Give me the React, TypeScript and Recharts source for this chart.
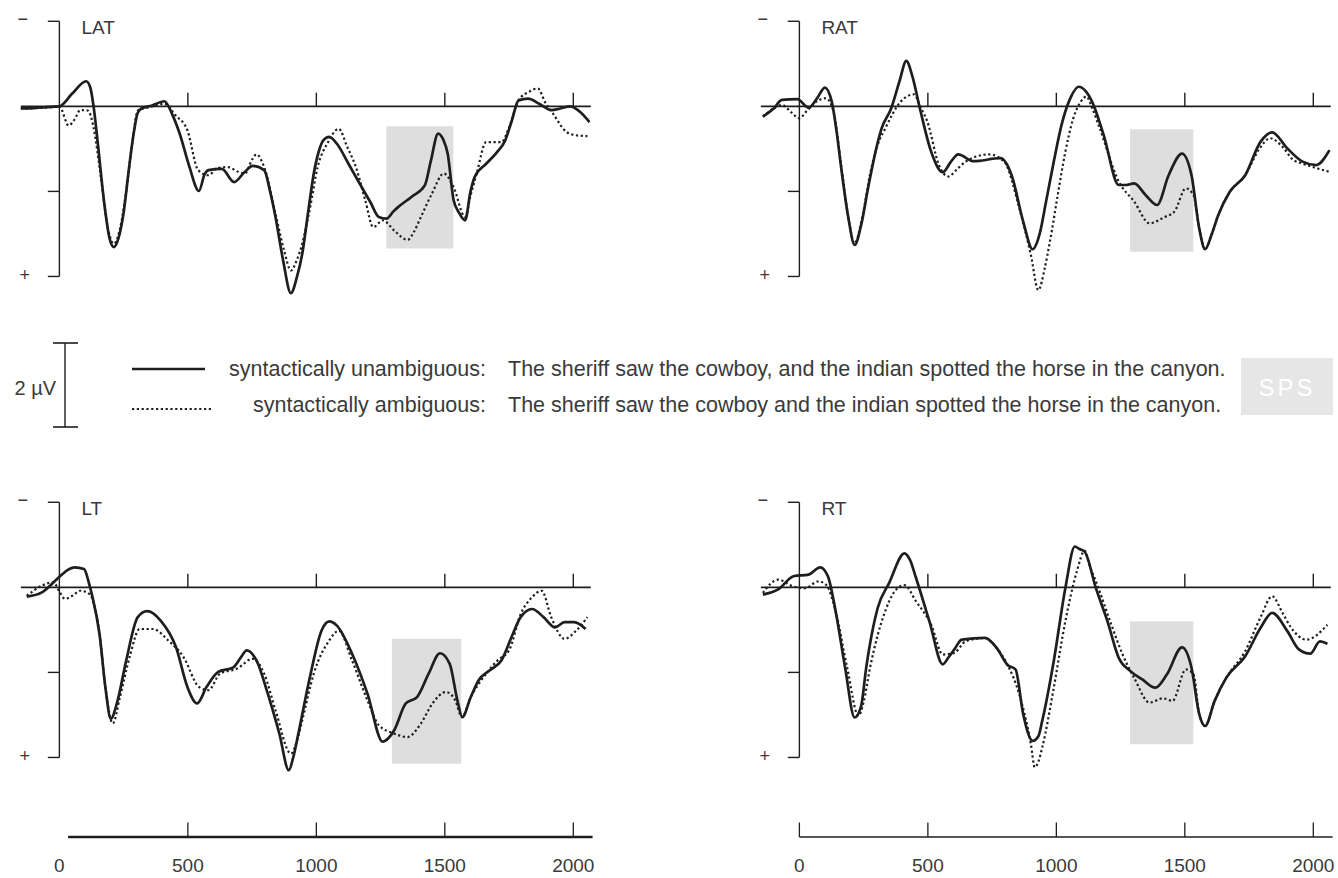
import React from 'react';
import { LineChart, Line, XAxis, YAxis, ReferenceLine, ReferenceArea } from 'recharts';

type Pt = [number, number];

// time (ms), amplitude (µV, negative plotted up)
const LAT_UNAMBIG: Pt[] = [
  [-150, 0.05], [-100, 0.04], [-50, 0.02], [0, 0], [50, -0.3], [104, -0.59], [120, -0.45], [133, 0], [150, 0.9],
  [175, 2.3], [195, 3.1], [212, 3.31], [230, 3.1], [250, 2.5], [270, 1.5], [290, 0.6], [305, 0.15], [320, 0.05],
  [360, -0.02], [409, -0.12], [440, 0.2], [468, 0.64], [505, 1.4], [543, 1.99], [565, 1.6], [580, 1.5], [632, 1.47],
  [680, 1.78], [720, 1.55], [752, 1.4], [797, 1.5], [820, 2.0], [841, 2.6], [870, 3.6], [901, 4.39], [925, 4.0],
  [945, 3.47], [970, 2.4], [990, 1.58], [1010, 1.05], [1027, 0.8], [1050, 0.72], [1080, 0.88], [1125, 1.35],
  [1169, 1.82], [1210, 2.25], [1243, 2.6], [1273, 2.64], [1300, 2.47], [1318, 2.37], [1370, 2.13], [1422, 1.86],
  [1445, 1.3], [1474, 0.64], [1495, 0.8], [1511, 1.11], [1534, 2.2], [1555, 2.5], [1579, 2.68], [1600, 2.0],
  [1616, 1.66], [1661, 1.35], [1700, 1.1], [1735, 0.8], [1760, 0.35], [1787, -0.14], [1824, -0.18], [1870, -0.05],
  [1914, 0.09], [1950, 0.05], [1988, 0], [2030, 0.15], [2063, 0.37],
];
const LAT_AMBIG: Pt[] = [
  [-150, 0.05], [-50, 0.03], [0, 0], [36, 0.45], [60, 0.3], [81, 0.09], [111, 0.1], [133, 0.5], [160, 1.6],
  [190, 2.9], [212, 3.23], [235, 2.9], [260, 2.0], [285, 0.8], [305, 0.1], [350, 0.02], [409, -0.06], [450, 0.2],
  [498, 0.56], [540, 1.5], [580, 1.62], [615, 1.45], [655, 1.43], [700, 1.55], [722, 1.58], [750, 1.25], [767, 1.13],
  [797, 1.43], [841, 2.53], [875, 3.4], [901, 3.86], [925, 3.6], [945, 3.23], [975, 2.4], [1005, 1.43], [1045, 0.85],
  [1087, 0.53], [1120, 0.95], [1154, 1.43], [1190, 2.2], [1221, 2.84], [1259, 2.68], [1303, 2.92], [1355, 3.14],
  [1380, 2.95], [1407, 2.6], [1450, 2.05], [1496, 1.58], [1534, 1.9], [1579, 2.6], [1600, 2.1], [1624, 1.58],
  [1661, 0.84], [1720, 0.84], [1750, 0.5], [1787, -0.14], [1830, -0.35], [1862, -0.42], [1890, -0.1], [1921, 0.17],
  [1973, 0.6], [2010, 0.68], [2055, 0.7],
];
const RAT_UNAMBIG: Pt[] = [
  [-142, 0.24], [-100, 0.05], [-68, -0.15], [-8, -0.17], [36, 0.03], [70, -0.2], [99, -0.44], [126, -0.11],
  [145, 0.6], [163, 1.46], [190, 2.6], [215, 3.26], [240, 2.8], [267, 1.93], [295, 1.1], [320, 0.52], [357, 0.05],
  [390, -0.6], [416, -1.07], [440, -0.7], [469, 0.05], [513, 1.07], [558, 1.55], [590, 1.3], [618, 1.13], [678, 1.29],
  [782, 1.22], [826, 1.62], [871, 2.71], [908, 3.36], [935, 3.0], [960, 2.24], [990, 1.3], [1020, 0.44], [1055, -0.2],
  [1087, -0.46], [1115, -0.35], [1139, -0.11], [1184, 0.67], [1243, 1.85], [1270, 1.85], [1303, 1.81], [1348, 2.09],
  [1392, 2.32], [1437, 1.62], [1489, 1.11], [1526, 1.62], [1556, 2.87], [1579, 3.36], [1605, 3.0], [1630, 2.56],
  [1675, 2.01], [1735, 1.62], [1795, 0.83], [1840, 0.61], [1899, 0.99], [1958, 1.3], [2011, 1.38], [2063, 1.03],
];
const RAT_AMBIG: Pt[] = [
  [-142, 0.24], [-100, 0.05], [-68, -0.03], [-30, 0.15], [0, 0.28], [30, 0.1], [66, -0.11], [104, -0.19], [133, 0.13],
  [163, 1.4], [190, 2.6], [215, 3.22], [245, 2.6], [275, 1.6], [305, 0.9], [334, 0.52], [394, -0.11], [446, -0.28],
  [470, 0], [498, 0.36], [543, 1.38], [580, 1.65], [610, 1.5], [647, 1.3], [737, 1.13], [797, 1.3], [856, 2.4],
  [901, 3.5], [930, 4.32], [955, 3.8], [975, 3.18], [1005, 2.1], [1035, 1.07], [1065, 0.3], [1095, -0.11],
  [1117, -0.23], [1140, 0.05], [1169, 0.52], [1243, 1.77], [1303, 2.24], [1363, 2.75], [1422, 2.6], [1459, 2.48],
  [1504, 1.93], [1534, 2.09], [1556, 2.87], [1579, 3.36], [1605, 3.0], [1630, 2.56], [1675, 2.01], [1735, 1.62],
  [1790, 1.0], [1832, 0.75], [1880, 0.95], [1920, 1.25], [1960, 1.35], [2011, 1.45], [2063, 1.54],
];
const LT_UNAMBIG: Pt[] = [
  [-127, 0.22], [-68, 0.12], [-8, -0.2], [30, -0.4], [59, -0.47], [96, -0.43], [115, -0.1], [126, 0.16], [156, 1.09],
  [180, 2.4], [200, 3.09], [225, 2.7], [260, 1.72], [305, 0.7], [342, 0.56], [394, 0.78], [454, 1.41], [498, 2.34],
  [536, 2.73], [573, 2.34], [618, 1.99], [677, 1.88], [707, 1.64], [729, 1.48], [767, 1.72], [811, 2.5], [856, 3.44],
  [893, 4.3], [910, 4.0], [930, 3.44], [975, 2.11], [1020, 1.02], [1050, 0.8], [1080, 0.9], [1139, 1.56],
  [1199, 2.5], [1258, 3.63], [1280, 3.55], [1303, 3.36], [1348, 2.73], [1392, 2.58], [1437, 2.03], [1481, 1.55],
  [1519, 1.8], [1549, 2.66], [1568, 3.05], [1601, 2.58], [1631, 2.19], [1675, 1.95], [1720, 1.72], [1765, 1.09],
  [1795, 0.7], [1840, 0.51], [1884, 0.7], [1929, 0.94], [1966, 0.82], [2003, 0.82], [2048, 0.98],
];
const LT_AMBIG: Pt[] = [
  [-127, 0.2], [-68, -0.04], [-23, -0.12], [0, 0.1], [22, 0.27], [50, 0.2], [81, 0.08], [118, 0.16], [156, 1.09],
  [180, 2.4], [208, 3.2], [235, 2.6], [275, 1.6], [312, 0.98], [364, 0.98], [424, 1.25], [483, 1.64], [543, 2.34],
  [580, 2.42], [625, 2.03], [692, 1.91], [752, 1.68], [797, 2.03], [841, 2.89], [901, 3.91], [925, 3.6], [945, 3.13],
  [990, 2.03], [1050, 1.25], [1087, 1.02], [1139, 1.72], [1199, 2.66], [1243, 3.24], [1303, 3.44], [1355, 3.52],
  [1407, 3.2], [1452, 2.73], [1504, 2.46], [1541, 2.66], [1566, 3.05], [1601, 2.58], [1661, 2.03], [1705, 1.72],
  [1750, 1.48], [1795, 0.63], [1840, 0.23], [1877, 0.08], [1914, 0.7], [1966, 1.21], [2011, 1.02], [2055, 0.7],
];
const RT_UNAMBIG: Pt[] = [
  [-142, 0.17], [-83, 0.05], [-23, -0.26], [36, -0.3], [81, -0.47], [111, -0.26], [141, 0.56], [178, 1.89],
  [215, 3.06], [240, 2.8], [260, 1.89], [305, 0.48], [349, -0.1], [409, -0.8], [430, -0.65], [454, -0.22], [506, 0.8],
  [558, 1.81], [580, 1.65], [603, 1.46], [632, 1.23], [722, 1.19], [767, 1.42], [811, 1.83], [841, 1.93], [871, 2.98],
  [908, 3.61], [930, 3.5], [945, 3.14], [990, 1.73], [1035, 0.02], [1072, -0.96], [1090, -0.9], [1110, -0.84],
  [1154, 0.02], [1199, 0.8], [1243, 1.66], [1288, 1.97], [1333, 2.16], [1385, 2.36], [1430, 2.05], [1489, 1.41],
  [1526, 1.89], [1556, 2.98], [1579, 3.26], [1616, 2.67], [1661, 2.13], [1735, 1.62], [1795, 0.95], [1840, 0.6],
  [1899, 1.03], [1944, 1.46], [1988, 1.56], [2026, 1.27], [2055, 1.33],
];
const RT_AMBIG: Pt[] = [
  [-142, 0.13], [-83, -0.18], [-23, -0.02], [22, 0.02], [74, -0.14], [104, -0.06], [141, 0.56], [186, 1.89],
  [230, 3.02], [250, 2.7], [275, 1.89], [334, 0.56], [370, 0.1], [409, -0.05], [454, 0.33], [513, 0.88], [558, 1.58],
  [603, 1.54], [647, 1.27], [722, 1.19], [767, 1.42], [811, 1.83], [856, 2.52], [901, 3.69], [916, 4.23], [930, 4.1],
  [945, 3.77], [990, 2.36], [1035, 0.8], [1080, -0.38], [1110, -0.86], [1130, -0.5], [1154, -0.14], [1214, 0.88],
  [1258, 1.58], [1303, 2.13], [1363, 2.71], [1415, 2.61], [1452, 2.67], [1504, 1.93], [1534, 2.05], [1556, 2.98],
  [1579, 3.26], [1616, 2.67], [1661, 2.13], [1735, 1.5], [1795, 0.7], [1840, 0.21], [1880, 0.6], [1914, 0.95],
  [1973, 1.23], [2055, 0.88],
];

// shaded SPS windows: [t1, t2, v1, v2]
const LAT_SPS = [1272, 1533, 0.47, 3.34];
const RAT_SPS = [1287, 1533, 0.54, 3.42];
const LT_SPS = [1294, 1564, 1.21, 4.15];
const RT_SPS = [1287, 1533, 0.8, 3.69];

const ZERO_TICKS = [500, 1000, 1500, 2000];
const AMP_TICKS = [-2, 2, 4];
const LEFT_AXIS_TICKS = [500, 1000, 1500, 2000];
const RIGHT_AXIS_TICKS = [0, 500, 1000, 1500, 2000];
const AXIS_LABELS = [0, 500, 1000, 1500, 2000];

const FONT = '"Liberation Sans", Arial, Helvetica, sans-serif';
const INK = '#1e1e1e';
const TEXT = '#3a3a3a';
const PX_PER_MS = 591 / 2300;

const toRows = (pts: Pt[]) => pts.map(([t, v]) => ({ t, v }));

interface PanelProps {
  left: number;
  top: number;
  title: string;
  solid: Pt[];
  dotted: Pt[];
  sps: number[];
  axisTicks?: number[];
  axisStart?: number;
  axisWidth?: number;
}

function Panel({ left, top, title, solid, dotted, sps, axisTicks, axisStart = 0, axisWidth = 1.5 }: PanelProps) {
  const withAxis = !!axisTicks;
  const yMax = withAxis ? 5.87 : 5;
  const zeroX = left + 200 * PX_PER_MS;
  const zeroY = top + 2.5 * 42.53;
  return (
    <>
      <div style={{ position: 'absolute', left, top }}>
        <LineChart width={591} height={withAxis ? 397 : 319} margin={{ top: 0, right: 0, bottom: 0, left: 0 }}>
          <XAxis
            type="number"
            dataKey="t"
            domain={[-200, 2100]}
            allowDataOverflow
            hide={!withAxis}
            height={41}
            ticks={AXIS_LABELS}
            axisLine={false}
            tickLine={false}
            tickSize={0}
            tickMargin={22}
            tick={{ fontSize: 19, fill: TEXT, fontFamily: FONT }}
          />
          <YAxis type="number" domain={[-2.5, yMax]} reversed hide allowDataOverflow />
          <ReferenceArea x1={sps[0]} x2={sps[1]} y1={sps[2]} y2={sps[3]} fill="#dedede" fillOpacity={1} stroke="none" />
          <ReferenceLine segment={[{ x: -150, y: 0 }, { x: 2068, y: 0 }]} stroke={INK} strokeWidth={1.6} />
          {ZERO_TICKS.map((t) => (
            <ReferenceLine key={'z' + t} segment={[{ x: t, y: 0 }, { x: t, y: -0.32 }]} stroke={INK} strokeWidth={1.4} />
          ))}
          <ReferenceLine segment={[{ x: 0, y: -2 }, { x: 0, y: 4 }]} stroke={INK} strokeWidth={1.4} />
          {AMP_TICKS.map((v) => (
            <ReferenceLine key={'a' + v} segment={[{ x: -45, y: v }, { x: 0, y: v }]} stroke={INK} strokeWidth={1.4} />
          ))}
          {withAxis && (
            <ReferenceLine segment={[{ x: axisStart, y: yMax }, { x: 2075, y: yMax }]} stroke={INK} strokeWidth={axisWidth} />
          )}
          {withAxis &&
            axisTicks!.map((t) => (
              <ReferenceLine key={'b' + t} segment={[{ x: t, y: yMax }, { x: t, y: yMax - 0.34 }]} stroke={INK} strokeWidth={1.3} />
            ))}
          <Line
            data={toRows(dotted)}
            dataKey="v"
            type="monotone"
            dot={false}
            stroke={INK}
            strokeWidth={2.2}
            strokeDasharray="2.2 2.6"
            isAnimationActive={false}
          />
          <Line
            data={toRows(solid)}
            dataKey="v"
            type="monotone"
            dot={false}
            stroke={INK}
            strokeWidth={2.7}
            isAnimationActive={false}
          />
        </LineChart>
      </div>
      <div style={{ position: 'absolute', left: zeroX + 22, top: zeroY - 89, fontSize: 19, color: TEXT, fontFamily: FONT, lineHeight: '22px' }}>
        {title}
      </div>
      <div style={{ position: 'absolute', left: zeroX - 42, top: zeroY - 97, fontSize: 18, color: TEXT, fontFamily: FONT, lineHeight: '20px' }}>
        −
      </div>
      <div style={{ position: 'absolute', left: zeroX - 40, top: zeroY + 159, fontSize: 18, color: TEXT, fontFamily: FONT, lineHeight: '20px' }}>
        +
      </div>
    </>
  );
}

function LegendBlock() {
  return (
    <svg width={1338} height={140} style={{ position: 'absolute', left: 0, top: 300 }} fontFamily={FONT}>
      <line x1={65} y1={43} x2={65} y2={127} stroke={INK} strokeWidth={1.4} />
      <line x1={53} y1={43} x2={78} y2={43} stroke={INK} strokeWidth={1.6} />
      <line x1={53} y1={127} x2={78} y2={127} stroke={INK} strokeWidth={1.6} />
      <text x={56} y={88} textAnchor="end" dominantBaseline="central" fontSize={20} fill={TEXT}>2 µV</text>
      <line x1={132} y1={69} x2={205} y2={69} stroke={INK} strokeWidth={2.7} />
      <line x1={132} y1={109} x2={211} y2={109} stroke={INK} strokeWidth={2.2} strokeDasharray="2.2 2.6" />
      <text x={486} y={69} textAnchor="end" dominantBaseline="central" fontSize={21.5} fill={TEXT}>
        syntactically unambiguous:
      </text>
      <text x={486} y={105} textAnchor="end" dominantBaseline="central" fontSize={21.5} fill={TEXT}>
        syntactically ambiguous:
      </text>
      <text x={508} y={69} dominantBaseline="central" fontSize={21.5} fill={TEXT}>
        The sheriff saw the cowboy, and the indian spotted the horse in the canyon.
      </text>
      <text x={508} y={105} dominantBaseline="central" fontSize={21.5} fill={TEXT}>
        The sheriff saw the cowboy and the indian spotted the horse in the canyon.
      </text>
      <rect x={1241} y={58} width={92} height={57} fill="#e6e6e6" />
      <text x={1287} y={87} textAnchor="middle" dominantBaseline="central" fontSize={24} fill="#ffffff" letterSpacing={3}>
        SPS
      </text>
    </svg>
  );
}

export default function App() {
  return (
    <div
      style={{
        position: 'absolute',
        left: 0,
        top: 0,
        width: 1338,
        height: 878,
        background: '#fff',
        fontFamily: FONT,
        overflow: 'hidden',
      }}
    >
      <Panel left={8} top={0} title="LAT" solid={LAT_UNAMBIG} dotted={LAT_AMBIG} sps={LAT_SPS} />
      <Panel left={748} top={0} title="RAT" solid={RAT_UNAMBIG} dotted={RAT_AMBIG} sps={RAT_SPS} />
      <LegendBlock />
      <Panel
        left={8}
        top={481}
        title="LT"
        solid={LT_UNAMBIG}
        dotted={LT_AMBIG}
        sps={LT_SPS}
        axisTicks={LEFT_AXIS_TICKS}
        axisStart={34}
        axisWidth={2.6}
      />
      <Panel
        left={748}
        top={481}
        title="RT"
        solid={RT_UNAMBIG}
        dotted={RT_AMBIG}
        sps={RT_SPS}
        axisTicks={RIGHT_AXIS_TICKS}
        axisStart={0}
        axisWidth={1.5}
      />
    </div>
  );
}
